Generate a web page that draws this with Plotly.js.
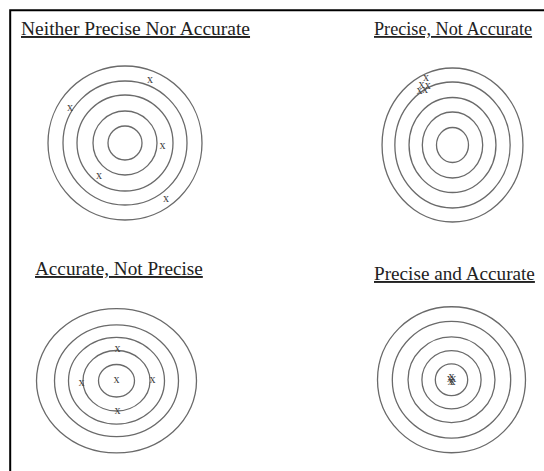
<!DOCTYPE html>
<html>
<head>
<meta charset="utf-8">
<script src="https://cdn.plot.ly/plotly-3.0.1.min.js"></script>
<style>html,body{margin:0;padding:0;background:#fff;}#chart{width:544px;height:471px;}</style>
</head>
<body>
<div id="chart"></div>
<script>
// Panel titles
const titles = ["Neither Precise Nor Accurate", "Precise, Not Accurate", "Accurate, Not Precise", "Precise and Accurate"];

// Ring radii of each target (px units, from centre)
const ringsTL = [17, 32, 48, 62, 77];
const ringsTR = [17.5, 33, 47.5, 63, 77];
const ringsBL = [18, 33.5, 48, 62, 80];
const ringsBR = [17.5, 32, 47, 64, 80];

// Hit positions relative to target centre (x right, y up)
const hitsTL_x = [25, -55, 37.5, -26, 41];
const hitsTL_y = [63, 35, -3, -32.5, -55.5];
const hitsTR_x = [-29, -34, -27, -36, -30];
const hitsTR_y = [67, 60, 59, 54, 55];
const hitsBL_x = [1, -35, 0, 36, 1];
const hitsBL_y = [35.5, -2, 0.5, 0.5, -33.5];
const hitsBR_x = [0, -2, 2, -1, 1];
const hitsBR_y = [3, 1, 1, -2, -3];

const W = 544, H = 471, HALF = 100;
// panel layout: centre in page pixels, title anchor and size
const panels = [
  {rings: ringsTL, hx: hitsTL_x, hy: hitsTL_y, cx: 125,   cy: 143,   tx: 18.5,  ty: 29,  fs: 19.5},
  {rings: ringsTR, hx: hitsTR_x, hy: hitsTR_y, cx: 461,   cy: 145,   tx: 371.5, ty: 29,  fs: 18.2},
  {rings: ringsBL, hx: hitsBL_x, hy: hitsBL_y, cx: 116.5, cy: 390.5, tx: 33,    ty: 268, fs: 19.2},
  {rings: ringsBR, hx: hitsBR_x, hy: hitsBR_y, cx: 459,   cy: 388.5, tx: 371.5, ty: 273, fs: 19.2}
];

const data = [], shapes = [], annotations = [];
const layout = {
  width: W, height: H,
  margin: {l: 0, r: 0, t: 0, b: 0},
  paper_bgcolor: '#ffffff', plot_bgcolor: 'rgba(0,0,0,0)',
  showlegend: false, hovermode: false
};

panels.forEach((p, i) => {
  const n = i === 0 ? '' : String(i + 1);
  const xa = 'xaxis' + n, ya = 'yaxis' + n;
  layout[xa] = {
    domain: [(p.cx - HALF) / W, (p.cx + HALF) / W], range: [-HALF, HALF],
    visible: false, showgrid: false, zeroline: false, fixedrange: true,
    anchor: 'y' + n
  };
  layout[ya] = {
    domain: [1 - (p.cy + HALF) / H, 1 - (p.cy - HALF) / H], range: [-HALF, HALF],
    visible: false, showgrid: false, zeroline: false, fixedrange: true,
    anchor: 'x' + n
  };
  p.rings.forEach(r => {
    shapes.push({type: 'circle', xref: 'x' + n, yref: 'y' + n,
      x0: -r, x1: r, y0: -r, y1: r,
      line: {color: '#6a6a6a', width: 1.3}, layer: 'below'});
  });
  data.push({
    type: 'scatter', mode: 'text', x: p.hx, y: p.hy,
    xaxis: 'x' + n, yaxis: 'y' + n,
    text: p.hx.map(() => 'x'), textposition: 'middle center',
    textfont: {family: '"Liberation Serif", "Times New Roman", serif', size: 12, color: '#444444'},
    cliponaxis: false
  });
  annotations.push({
    xref: 'paper', yref: 'paper', x: p.tx / W, y: 1 - p.ty / H,
    xanchor: 'left', yanchor: 'middle', showarrow: false,
    text: '<u>' + titles[i] + '</u>',
    font: {family: '"Liberation Serif", "Times New Roman", serif', size: p.fs, color: '#222222'}
  });
});

// page frame (top and left edges visible)
shapes.push({type: 'rect', xref: 'paper', yref: 'paper',
  x0: 10.2 / W, x1: 1.2, y0: -0.2, y1: 1 - 10.2 / H,
  line: {color: '#000000', width: 2}, fillcolor: 'rgba(0,0,0,0)'});

layout.shapes = shapes;
layout.annotations = annotations;

Plotly.newPlot('chart', data, layout, {staticPlot: true, displayModeBar: false});
</script>
</body>
</html>
